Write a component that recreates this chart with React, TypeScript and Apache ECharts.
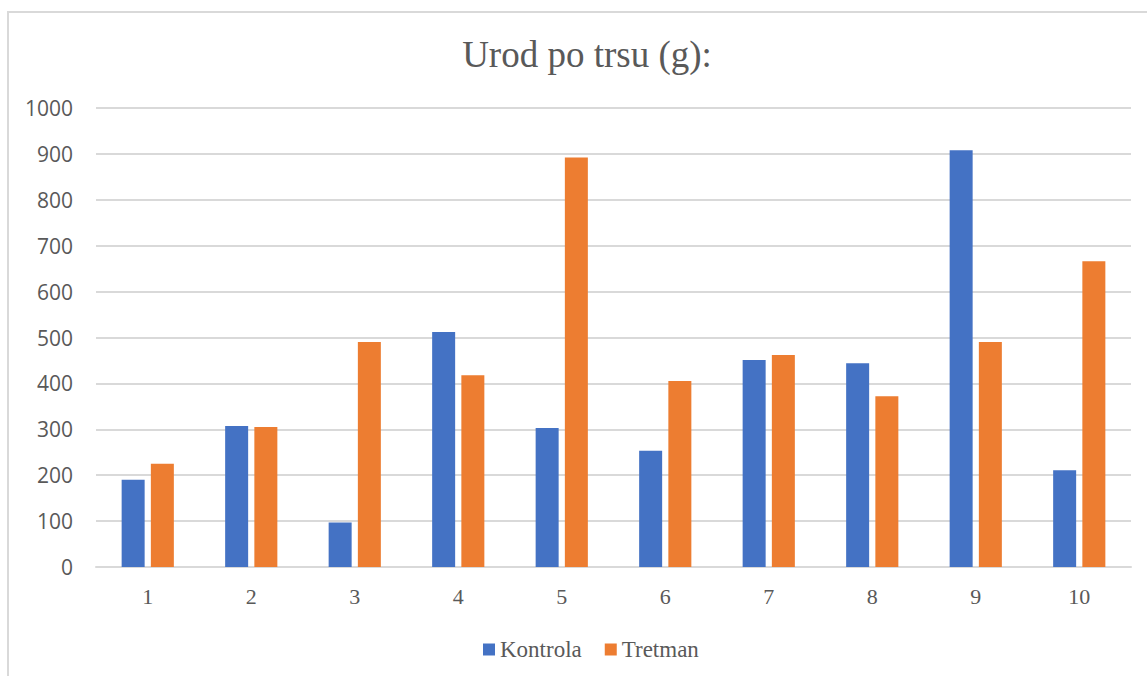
import React, { useEffect, useRef } from "react";
import * as echarts from "echarts";

const categories = ["1", "2", "3", "4", "5", "6", "7", "8", "9", "10"];
const kontrola = [190, 307, 97, 512, 303, 253, 451, 444, 908, 211];
const tretman = [225, 305, 490, 418, 892, 405, 462, 372, 490, 666];
const yMin = 0;
const yMax = 1000;
const yInterval = 100;

export default function App() {
  const ref = useRef<HTMLDivElement>(null);
  useEffect(() => {
    if (!ref.current) return;
    const chart = echarts.init(ref.current, null, { renderer: "svg" });
    const serif = "Liberation Serif";
    chart.setOption({
      animation: false,
      backgroundColor: "#ffffff",
      title: {
        text: "Urod po trsu (g):",
        left: 582,
        top: 31,
        textAlign: "center",
        textStyle: {
          fontFamily: serif,
          fontSize: 37,
          fontWeight: "normal",
          color: "#595959",
        },
      },
      graphic: [
        {
          type: "rect",
          shape: { x: 8, y: 12, width: 1300, height: 800 },
          style: { fill: "none", stroke: "#D9D9D9", lineWidth: 2 },
          silent: true,
          z: -1,
        },
      ],
      legend: {
        data: ["Kontrola", "Tretman"],
        left: 478,
        top: 633,
        itemWidth: 12,
        itemHeight: 12,
        itemGap: 23,
        icon: "rect",
        textStyle: {
          fontFamily: serif,
          fontSize: 23,
          color: "#595959",
        },
      },
      grid: { left: 96, right: 16, top: 108, bottom: 109, containLabel: false },
      xAxis: {
        type: "category",
        data: categories,
        axisLine: { show: true, lineStyle: { color: "#D9D9D9", width: 2 } },
        axisTick: { show: false },
        axisLabel: {
          fontFamily: serif,
          fontSize: 22,
          color: "#595959",
          margin: 18,
        },
      },
      yAxis: {
        type: "value",
        min: yMin,
        max: yMax,
        interval: yInterval,
        axisLine: { show: false },
        axisTick: { show: false },
        splitLine: { lineStyle: { color: "#D9D9D9", width: 2 } },
        axisLabel: {
          fontFamily: "Open Sans",
          fontSize: 21,
          color: "#595959",
          margin: 23,
          formatter: (v: number) => String(v),
        },
      },
      series: [
        {
          name: "Kontrola",
          type: "bar",
          data: kontrola,
          barWidth: 23,
          barGap: "27%",
          itemStyle: { color: "#4472C4" },
        },
        {
          name: "Tretman",
          type: "bar",
          data: tretman,
          barWidth: 23,
          barGap: "27%",
          itemStyle: { color: "#ED7D31" },
        },
      ],
    });
    return () => chart.dispose();
  }, []);
  return (
    <div
      ref={ref}
      style={{ position: "fixed", left: 0, top: 0, width: 1147, height: 676 }}
    />
  );
}
